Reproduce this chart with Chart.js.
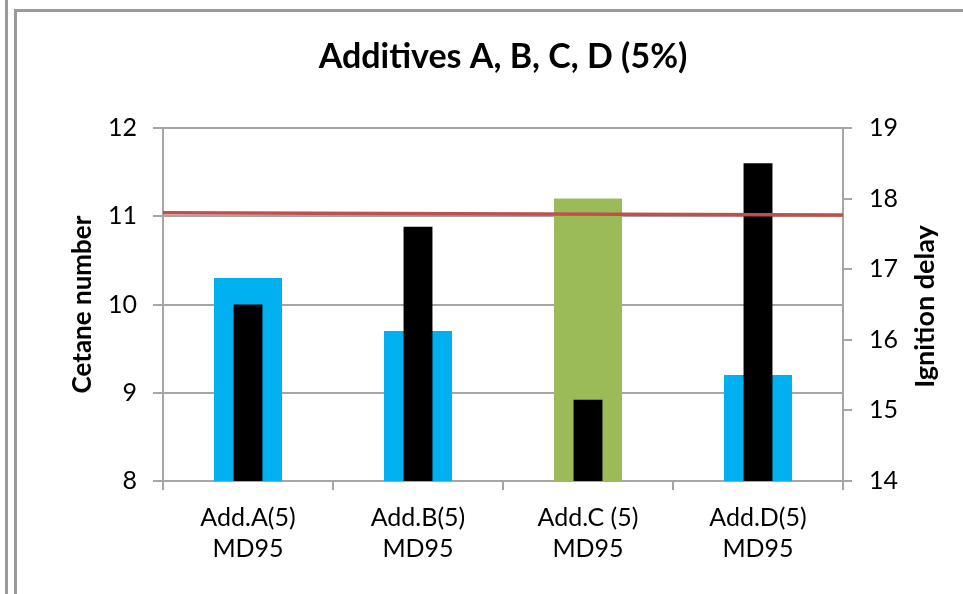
<!DOCTYPE html>
<html>
<head>
<meta charset="utf-8">
<script src="https://cdn.jsdelivr.net/npm/chart.js@4.4.1/dist/chart.umd.min.js"></script>
<style>
  html, body { margin: 0; padding: 0; background: #ffffff; }
  #wrap { position: relative; width: 963px; height: 594px; overflow: hidden; }
  .ln { position: absolute; background: #9a9a9a; }
  canvas { position: absolute; left: 0; top: 0; }
</style>
</head>
<body>
<div id="wrap">
  <div class="ln" style="left:5px; top:0; width:3px; height:594px;"></div>
  <div class="ln" style="left:14px; top:9px; width:3px; height:585px;"></div>
  <div class="ln" style="left:14px; top:9px; width:949px; height:3px;"></div>
  <canvas id="c" width="963" height="594"></canvas>
</div>
<script>
// ---- data ----
const categories = [["Add.A(5)", "MD95"], ["Add.B(5)", "MD95"], ["Add.C (5)", "MD95"], ["Add.D(5)", "MD95"]];
const cetaneNumber = [10.3, 9.7, 11.2, 9.2];
const ignitionDelay = [16.5, 17.6, 15.15, 18.5];
const referenceLine = [11.04, 11.015];
const leftTicks = [8, 9, 10, 11, 12];
const rightTicks = [14, 15, 16, 17, 18, 19];
const titleText = "Additives A, B, C, D (5%)";
const leftTitle = "Cetane number";
const rightTitle = "Ignition delay";

const FONT = "Lato";
const cetaneColors = ["#00B0F0", "#00B0F0", "#9BBB59", "#00B0F0"];

const rightTitlePlugin = {
  id: 'rightTitle',
  afterDraw(chart) {
    const ctx = chart.ctx;
    ctx.save();
    ctx.font = "bold 27px " + FONT;
    ctx.fillStyle = "#000";
    ctx.textAlign = "center";
    ctx.textBaseline = "middle";
    ctx.translate(925, (chart.chartArea.top + chart.chartArea.bottom) / 2 + 2);
    ctx.rotate(-Math.PI / 2);
    ctx.fillText(rightTitle, 0, 0);
    ctx.restore();
  }
};

new Chart(document.getElementById('c'), {
  data: {
    labels: categories,
    datasets: [
      {
        type: 'line',
        data: referenceLine.map((v, i) => ({ x: i, y: v })),
        xAxisID: 'x2',
        yAxisID: 'y',
        borderColor: '#C0504D',
        borderWidth: 3.5,
        pointRadius: 0,
        fill: false,
        order: 0
      },
      {
        type: 'bar',
        data: ignitionDelay,
        xAxisID: 'x',
        yAxisID: 'y1',
        backgroundColor: '#000000',
        barPercentage: 0.17,
        categoryPercentage: 1,
        grouped: false,
        order: 1
      },
      {
        type: 'bar',
        data: cetaneNumber,
        xAxisID: 'x',
        yAxisID: 'y',
        backgroundColor: cetaneColors,
        barPercentage: 0.4,
        categoryPercentage: 1,
        grouped: false,
        order: 2
      }
    ]
  },
  options: {
    responsive: false,
    animation: false,
    devicePixelRatio: 1,
    layout: { padding: 0 },
    plugins: {
      legend: { display: false },
      tooltip: { enabled: false },
      title: {
        display: true,
        fullSize: false,
        text: titleText,
        color: '#000',
        font: { family: FONT, size: 34, weight: 'bold', lineHeight: 1.2 },
        padding: { top: 36.6, bottom: 50.6 }
      }
    },
    scales: {
      x: {
        type: 'category',
        position: 'bottom',
        offset: true,
        grid: { offset: true, drawOnChartArea: false, drawTicks: true, tickLength: 9, color: '#A6A6A6', lineWidth: 2 },
        border: { display: true, color: '#A6A6A6', width: 2 },
        ticks: { color: '#000', font: { family: FONT, size: 25, lineHeight: 1.25 }, padding: 12, maxRotation: 0, autoSkip: false },
        afterFit(s) { s.height = 113; }
      },
      x2: {
        type: 'linear',
        display: false,
        min: 0,
        max: 1
      },
      y: {
        type: 'linear',
        position: 'left',
        min: leftTicks[0],
        max: leftTicks[leftTicks.length - 1],
        afterBuildTicks(s) { s.ticks = leftTicks.map(v => ({ value: v })); },
        grid: { color: '#A6A6A6', lineWidth: 2, tickLength: 10 },
        border: { display: true, color: '#A6A6A6', width: 2 },
        ticks: { color: '#000', font: { family: FONT, size: 25 }, padding: 16 },
        title: { display: true, text: leftTitle, color: '#000', font: { family: FONT, size: 26, weight: 'bold', lineHeight: 1.2 }, padding: { top: 67.4, bottom: 0 } },
        afterFit(s) { s.width = 163; }
      },
      y1: {
        type: 'linear',
        position: 'right',
        min: rightTicks[0],
        max: rightTicks[rightTicks.length - 1],
        afterBuildTicks(s) { s.ticks = rightTicks.map(v => ({ value: v })); },
        grid: { drawOnChartArea: false, drawTicks: true, color: '#A6A6A6', lineWidth: 2, tickLength: 9 },
        border: { display: true, color: '#A6A6A6', width: 2 },
        ticks: { color: '#000', font: { family: FONT, size: 25 }, padding: 17 },
        afterFit(s) { s.width = 120; }
      }
    }
  },
  plugins: [rightTitlePlugin]
});
</script>
</body>
</html>
